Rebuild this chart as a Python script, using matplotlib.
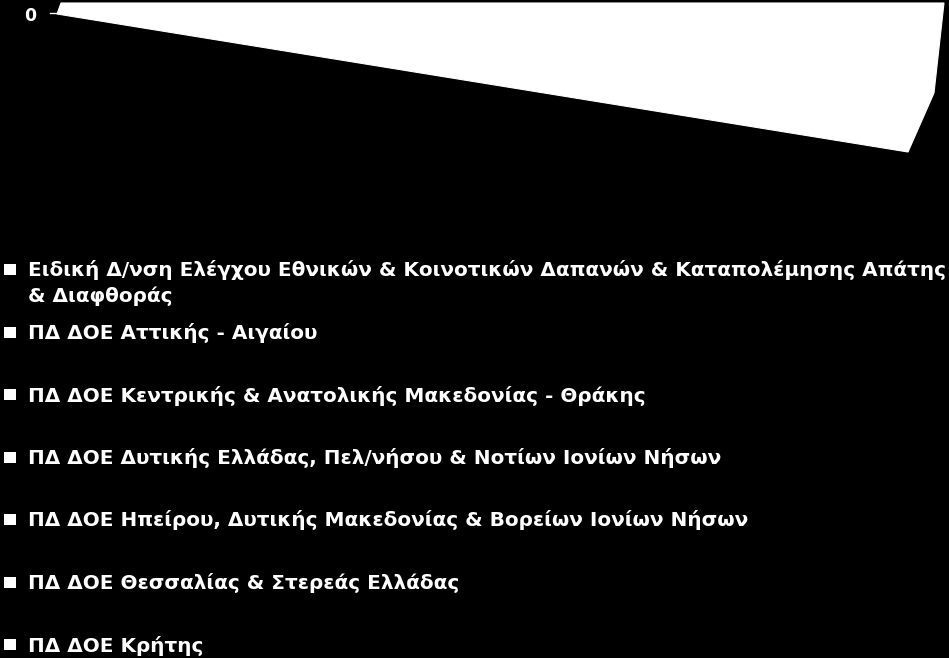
import matplotlib
matplotlib.use('Agg')
import matplotlib.pyplot as plt
from matplotlib.patches import Polygon, Rectangle

# series (all zero in the source chart)
categories = [
    'Ειδική Δ/νση Ελέγχου Εθνικών & Κοινοτικών Δαπανών & Καταπολέμησης Απάτης\n& Διαφθοράς',
    'ΠΔ ΔΟΕ Αττικής - Αιγαίου',
    'ΠΔ ΔΟΕ Κεντρικής & Ανατολικής Μακεδονίας - Θράκης',
    'ΠΔ ΔΟΕ Δυτικής Ελλάδας, Πελ/νήσου & Νοτίων Ιονίων Νήσων',
    'ΠΔ ΔΟΕ Ηπείρου, Δυτικής Μακεδονίας & Βορείων Ιονίων Νήσων',
    'ΠΔ ΔΟΕ Θεσσαλίας & Στερεάς Ελλάδας',
    'ΠΔ ΔΟΕ Κρήτης',
]
values = [0, 0, 0, 0, 0, 0, 0]
yticks = [0]

plt.rcParams['font.family'] = ['DejaVu Sans']

fig = plt.figure(figsize=(9.49, 6.58), dpi=100, facecolor='black')
ax = fig.add_axes([0, 0, 1, 1])
ax.set_facecolor('black')
ax.set_xlim(0, 949)
ax.set_ylim(658, 0)
ax.axis('off')

# floor of the 3-D column chart (seen in perspective, clipped at the top)
floor = [(57, 14), (61, 3), (944, 3), (934, 93), (908, 152)]
ax.add_patch(Polygon(floor, closed=True, facecolor='white', edgecolor='white', lw=0.8))

# value axis: only the zero level is visible
for v in yticks:
    ax.text(36, 21, str(v), color='white', fontsize=12.5, fontweight='bold',
            ha='right', va='baseline')
    ax.plot([50, 57], [13, 13], color='white', lw=1)

# legend
fs = 14.4
row_y = 269
for i, (lab, v) in enumerate(zip(categories, values)):
    ax.add_patch(Rectangle((4, row_y - 5.5), 12, 11, facecolor='white', edgecolor='none'))
    lines = lab.split('\n')
    for j, line in enumerate(lines):
        ax.text(28, row_y + 7 + j * 26, line, color='white', fontsize=fs,
                fontweight='bold', ha='left', va='baseline')
    if i == 0:
        row_y = 332
    else:
        row_y += 62.5

fig.savefig('out.png', dpi=100, facecolor='black')
